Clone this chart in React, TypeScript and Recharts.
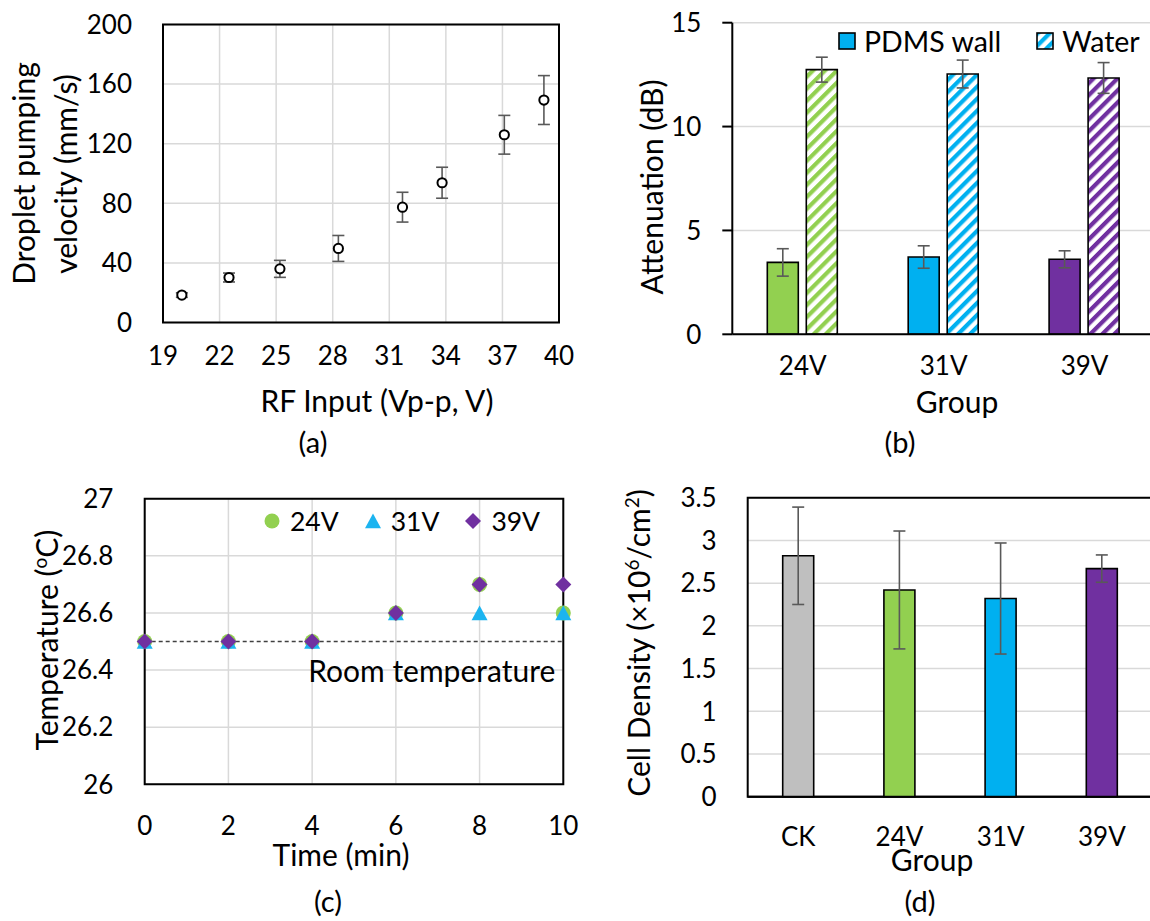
import {
  ScatterChart,
  Scatter,
  BarChart,
  Bar,
  XAxis,
  YAxis,
  CartesianGrid,
  ErrorBar,
  ReferenceArea,
  ReferenceLine,
  Legend,
  Label,
  Cell,
} from "recharts";

const FONT = "Lato, 'Open Sans', sans-serif";
const GREEN = "#92D050";
const BLUE = "#00B0F0";
const PURPLE = "#7030A0";
const GREY = "#BFBFBF";
const GRID = "#D9D9D9";
const ERR = "#595959";

// (a) droplet pumping velocity vs RF input
const rfInput = [20.0, 22.5, 25.2, 28.3, 31.7, 33.8, 37.1, 39.2];
const pumpVelocity = [18.4, 30.2, 36.0, 49.7, 77.4, 93.8, 126.0, 149.3];
const pumpVelocityErr = [1.5, 3, 5.7, 8.7, 10.0, 10.4, 13.0, 16.4];
const rfTicks = [19, 22, 25, 28, 31, 34, 37, 40];
const velocityTicks = [0, 40, 80, 120, 160, 200];

// (b) attenuation
const attGroups = ["24V", "31V", "39V"];
const attColors = [GREEN, BLUE, PURPLE];
const attWall = [3.46, 3.72, 3.61];
const attWallErr = [0.66, 0.54, 0.41];
const attWater = [12.74, 12.53, 12.34];
const attWaterErr = [0.6, 0.67, 0.74];
const attTicks = [0, 5, 10, 15];

// (c) temperature over time
const timeMin = [0, 2, 4, 6, 8, 10];
const temp24 = [26.5, 26.5, 26.5, 26.6, 26.7, 26.6];
const temp31 = [26.5, 26.5, 26.5, 26.6, 26.6, 26.6];
const temp39 = [26.5, 26.5, 26.5, 26.6, 26.7, 26.7];
const roomTemp = 26.5;
const tempTicks = [26, 26.2, 26.4, 26.6, 26.8, 27];

// (d) cell density
const cellGroups = ["CK", "24V", "31V", "39V"];
const cellColors = [GREY, GREEN, BLUE, PURPLE];
const cellDensity = [2.82, 2.42, 2.32, 2.67];
const cellDensityErr = [0.57, 0.69, 0.65, 0.16];
const densityTicks = [0, 0.5, 1, 1.5, 2, 2.5, 3, 3.5];

const tickStyle = { fill: "#000", fontSize: 26, fontFamily: FONT };
const TITLE = 30;

const pumpData = rfInput.map((x, i) => ({ x, y: pumpVelocity[i], err: pumpVelocityErr[i] }));
const attData = attGroups.map((group, i) => ({
  group,
  wall: attWall[i],
  wallErr: attWallErr[i],
  water: attWater[i],
  waterErr: attWaterErr[i],
}));
const toTemp = (vals: number[]) => timeMin.map((t, i) => ({ t, temp: vals[i] }));
const cellData = cellGroups.map((group, i) => ({ group, density: cellDensity[i], err: cellDensityErr[i] }));

const hatchIds = ["hatch-green", "hatch-blue", "hatch-purple"];

const OpenCircle = (p: any) => (
  <circle cx={p.cx} cy={p.cy} r={4.6} fill="#fff" stroke="#000" strokeWidth={2} />
);

const dot = (cx: number, cy: number) => <circle cx={cx} cy={cy} r={7.5} fill={GREEN} />;
const tri = (cx: number, cy: number) => (
  <path d={`M${cx},${cy - 7.5} L${cx + 8},${cy + 7.3} L${cx - 8},${cy + 7.3} Z`} fill="#1CB4F0" />
);
const dia = (cx: number, cy: number) => (
  <path d={`M${cx},${cy - 8} L${cx + 8},${cy} L${cx},${cy + 8} L${cx - 8},${cy} Z`} fill={PURPLE} />
);
const markerByType: Record<string, (cx: number, cy: number) => any> = {
  circle: dot,
  triangle: tri,
  diamond: dia,
};

function AttLegend({ payload }: any) {
  return (
    <div style={{ display: "flex", alignItems: "center", fontSize: 28.5, fontFamily: FONT, color: "#000", lineHeight: "30px", whiteSpace: "nowrap" }}>
      {(payload ?? []).map((e: any, i: number) => (
        <span key={e.value} style={{ display: "inline-flex", alignItems: "center", marginLeft: i ? 35 : 0 }}>
          <svg width={18} height={18} style={{ marginRight: 8 }}>
            <rect x={1} y={1} width={16} height={16} fill={e.color} stroke="#000" strokeWidth={1.6} />
          </svg>
          {e.value}
        </span>
      ))}
    </div>
  );
}

function TempLegend({ payload }: any) {
  return (
    <div style={{ display: "flex", alignItems: "center", fontSize: 26.5, fontFamily: FONT, color: "#000", lineHeight: "30px", whiteSpace: "nowrap" }}>
      {(payload ?? []).map((e: any, i: number) => (
        <span key={e.value} style={{ display: "inline-flex", alignItems: "center", marginLeft: i ? 26 : 0 }}>
          <svg width={16} height={16} style={{ marginRight: 10, overflow: "visible" }}>
            {markerByType[e.type]?.(8, 8)}
          </svg>
          {e.value}
        </span>
      ))}
    </div>
  );
}

const RoomLabel = (props: any) => {
  const vb = props.viewBox ?? { x: 0, y: 0, width: 0 };
  return (
    <text x={vb.x + vb.width - 8} y={vb.y + 40} textAnchor="end" fontSize={TITLE} fontFamily={FONT} fill="#000">
      Room temperature
    </text>
  );
};

function PanelA() {
  return (
    <ScatterChart width={575} height={460} margin={{ top: 24.5, right: 16, bottom: 0, left: 0 }}>
      <CartesianGrid stroke={GRID} strokeWidth={1.5} />
      <XAxis type="number" dataKey="x" domain={[19, 40]} ticks={rfTicks} interval={0} axisLine={false} tickLine={false} tickSize={0} tickMargin={24.5} height={137.5} tick={tickStyle} />
      <YAxis type="number" dataKey="y" domain={[0, 200]} ticks={velocityTicks} interval={0} axisLine={false} tickLine={false} tickSize={0} tickMargin={31} width={163} tick={tickStyle} />
      <ReferenceArea x1={19} x2={40} y1={0} y2={200} fill="none" stroke="#000" strokeWidth={2} />
      <Scatter data={pumpData} shape={OpenCircle} isAnimationActive={false}>
        <ErrorBar dataKey="err" direction="y" width={6} stroke={ERR} strokeWidth={1.6} />
      </Scatter>
    </ScatterChart>
  );
}

function PanelB() {
  return (
    <BarChart width={580} height={460} data={attData} barGap={8} margin={{ top: 22.7, right: 5, bottom: 0, left: 0 }}>
      <defs>
        {attColors.map((c, i) => (
          <pattern key={hatchIds[i]} id={hatchIds[i]} patternUnits="userSpaceOnUse" width={8.5} height={8.5} patternTransform="rotate(45)">
            <rect width={8.5} height={8.5} fill="#fff" />
            <rect width={4.2} height={8.5} fill={c} />
          </pattern>
        ))}
      </defs>
      <CartesianGrid stroke={GRID} strokeWidth={1.5} vertical={false} />
      <XAxis dataKey="group" axisLine={{ stroke: "#000", strokeWidth: 2 }} tickLine={false} tickSize={0} tickMargin={22.7} height={125.7} tick={tickStyle} interval={0} />
      <YAxis domain={[0, 15]} ticks={attTicks} interval={0} axisLine={{ stroke: "#000", strokeWidth: 2 }} tickLine={{ stroke: "#000", strokeWidth: 2 }} tickSize={10} tickMargin={21} width={152.3} tick={tickStyle} />
      <ReferenceArea x1="24V" x2="39V" y1={0} y2={15} fill="none" stroke="#000" strokeWidth={2} />
      <Bar dataKey="wall" name="PDMS wall" fill={BLUE} stroke="#000" strokeWidth={1.6} barSize={31} isAnimationActive={false}>
        {attColors.map((c, i) => (
          <Cell key={i} fill={c} />
        ))}
        <ErrorBar dataKey="wallErr" width={6} stroke={ERR} strokeWidth={1.6} />
      </Bar>
      <Bar dataKey="water" name="Water" fill="url(#hatch-blue)" stroke="#000" strokeWidth={1.6} barSize={31} isAnimationActive={false}>
        {hatchIds.map((id) => (
          <Cell key={id} fill={`url(#${id})`} />
        ))}
        <ErrorBar dataKey="waterErr" width={6} stroke={ERR} strokeWidth={1.6} />
      </Bar>
      <Legend layout="horizontal" verticalAlign="middle" align="center" content={AttLegend} wrapperStyle={{ left: 258, top: 26, width: "auto" }} />
    </BarChart>
  );
}

function PanelC() {
  return (
    <ScatterChart width={580} height={451} margin={{ top: 28.7, right: 16.7, bottom: 0, left: 0 }}>
      <CartesianGrid stroke={GRID} strokeWidth={1.5} />
      <XAxis type="number" dataKey="t" domain={[0, 10]} ticks={timeMin} interval={0} axisLine={false} tickLine={false} tickSize={0} tickMargin={32.7} height={136.7} tick={tickStyle} />
      <YAxis type="number" dataKey="temp" domain={[26, 27]} ticks={tempTicks} interval={0} axisLine={false} tickLine={false} tickSize={0} tickMargin={31.4} width={144.7} tick={tickStyle} />
      <ReferenceArea x1={0} x2={10} y1={26} y2={27} fill="none" stroke="#000" strokeWidth={2} />
      <ReferenceLine y={roomTemp} stroke="#404040" strokeWidth={1.4} strokeDasharray="4 3">
        <Label content={RoomLabel} />
      </ReferenceLine>
      <Scatter name="24V" data={toTemp(temp24)} fill={GREEN} legendType="circle" shape={(p: any) => dot(p.cx, p.cy)} isAnimationActive={false} />
      <Scatter name="31V" data={toTemp(temp31)} fill={BLUE} legendType="triangle" shape={(p: any) => tri(p.cx, p.cy)} isAnimationActive={false} />
      <Scatter name="39V" data={toTemp(temp39)} fill={PURPLE} legendType="diamond" shape={(p: any) => dia(p.cx, p.cy)} isAnimationActive={false} />
      <Legend layout="horizontal" verticalAlign="middle" align="center" content={TempLegend} wrapperStyle={{ left: 264, top: 36, width: "auto" }} />
    </ScatterChart>
  );
}

function PanelD() {
  return (
    <BarChart width={560} height={451} data={cellData} margin={{ top: 27.7, right: 7.5, bottom: 0, left: 0 }}>
      <CartesianGrid stroke={GRID} strokeWidth={1.5} vertical={false} />
      <XAxis dataKey="group" axisLine={{ stroke: "#000", strokeWidth: 2 }} tickLine={false} tickSize={0} tickMargin={31.3} height={124.3} tick={tickStyle} interval={0} />
      <YAxis domain={[0, 3.5]} ticks={densityTicks} interval={0} axisLine={false} tickLine={false} tickSize={0} tickMargin={31} width={147.7} tick={tickStyle} />
      <ReferenceArea x1="CK" x2="39V" y1={0} y2={3.5} fill="none" stroke="#000" strokeWidth={2} />
      <Bar dataKey="density" fill={GREY} stroke="#000" strokeWidth={1.6} barSize={31} isAnimationActive={false}>
        {cellColors.map((c, i) => (
          <Cell key={i} fill={c} />
        ))}
        <ErrorBar dataKey="err" width={6} stroke={ERR} strokeWidth={1.6} />
      </Bar>
    </BarChart>
  );
}

export default function App() {
  const sup = { fontSize: 19, baselineShift: "super" } as any;
  return (
    <div style={{ position: "fixed", left: 0, top: 0, width: 1150, height: 921, overflow: "hidden", background: "#fff", fontFamily: FONT }}>
      <div style={{ position: "absolute", left: 0, top: 0 }}>
        <PanelA />
      </div>
      <div style={{ position: "absolute", left: 580, top: 0 }}>
        <PanelB />
      </div>
      <div style={{ position: "absolute", left: 0, top: 470 }}>
        <PanelC />
      </div>
      <div style={{ position: "absolute", left: 600, top: 470 }}>
        <PanelD />
      </div>
      <svg width={1150} height={921} style={{ position: "absolute", left: 0, top: 0, pointerEvents: "none" }} fontFamily={FONT} fontSize={TITLE} fill="#000">
        {/* (a) */}
        <text transform="translate(34.5,173.5) rotate(-90)" textAnchor="middle">Droplet pumping</text>
        <text transform="translate(77,174) rotate(-90)" textAnchor="middle">velocity (mm/s)</text>
        <text x={377} y={412} textAnchor="middle">RF Input (Vp-p, V)</text>
        <text x={313} y={453} textAnchor="middle" fontSize={29}>(a)</text>
        {/* (b) */}
        <text transform="translate(663,187) rotate(-90)" textAnchor="middle">Attenuation (dB)</text>
        <text x={957} y={413} textAnchor="middle">Group</text>
        <text x={900} y={453} textAnchor="middle" fontSize={29}>(b)</text>
        {/* (c) */}
        <text transform="translate(58,640) rotate(-90)" textAnchor="middle">
          Temperature (<tspan style={sup}>o</tspan>C)
        </text>
        <text x={341} y={866} textAnchor="middle">Time (min)</text>
        <text x={328} y={912} textAnchor="middle" fontSize={29}>(c)</text>
        {/* (d) */}
        <text transform="translate(650,643) rotate(-90)" textAnchor="middle">
          Cell Density (×10<tspan style={sup}>6</tspan>/cm<tspan style={sup}>2</tspan>)
        </text>
        <text x={932} y={870.5} textAnchor="middle">Group</text>
        <text x={920} y={912} textAnchor="middle" fontSize={29}>(d)</text>
      </svg>
    </div>
  );
}
